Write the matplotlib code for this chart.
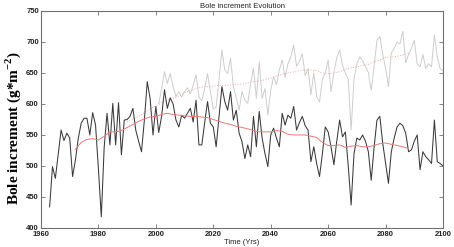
import matplotlib
matplotlib.use("Agg")
import matplotlib.pyplot as plt
import numpy as np

plt.rcParams['mathtext.fontset'] = 'custom'
plt.rcParams['mathtext.rm'] = 'Liberation Serif'
plt.rcParams['mathtext.bf'] = 'Liberation Serif:bold'

# ---------------------------------------------------------------------------
#   DATA
# ---------------------------------------------------------------------------
black_years = np.arange(1963, 2101)
black_vals = [434, 499, 480, 519, 558, 541, 553, 545, 483, 510,
              545, 569, 577, 577, 550, 586, 566, 495, 418, 530,
              585, 534, 601, 534, 602, 518, 574, 575, 580, 593,
              558, 540, 523, 574, 636, 609, 550, 596, 554, 580,
              623, 593, 610, 600, 574, 563, 582, 577, 585, 593,
              571, 606, 534, 534, 570, 604, 569, 563, 531, 580,
              628, 604, 590, 620, 574, 590, 553, 539, 512, 534,
              515, 580, 531, 588, 545, 520, 499, 550, 561, 545,
              531, 585, 566, 582, 577, 596, 558, 570, 580, 565,
              558, 507, 531, 504, 483, 520, 563, 555, 531, 502,
              540, 574, 547, 555, 500, 437, 520, 545, 542, 550,
              540, 523, 477, 530, 574, 580, 537, 505, 472, 523,
              545, 563, 569, 565, 553, 523, 526, 540, 550, 494,
              523, 515, 510, 504, 574, 507, 504, 500]

gray_years = np.arange(2001, 2101)
gray_vals = [600, 625, 652, 633, 649, 628, 612, 620, 611, 620,
             626, 616, 630, 647, 611, 605, 625, 649, 620, 592,
             595, 640, 687, 655, 649, 674, 628, 610, 590, 620,
             606, 601, 633, 658, 609, 668, 609, 625, 582, 622,
             644, 631, 655, 671, 643, 665, 676, 695, 661, 669,
             681, 646, 657, 615, 650, 612, 603, 640, 650, 671,
             620, 650, 675, 687, 662, 650, 640, 558, 640, 665,
             676, 670, 660, 651, 622, 660, 703, 709, 680, 658,
             628, 682, 690, 700, 697, 717, 666, 680, 690, 703,
             665, 660, 680, 657, 665, 660, 711, 677, 657, 654]

red_years = np.arange(1972, 2089, 2)
red_vals = [527, 538, 543, 544, 542, 548, 555, 555, 557, 562,
            567, 572, 576, 579, 580, 583, 585, 583, 582, 581,
            580, 580, 579, 578, 575, 572, 569, 567, 564, 562,
            560, 557, 555, 555, 555, 557, 556, 551, 550, 550,
            550, 548, 546, 538, 533, 533, 534, 530, 532, 533,
            531, 531, 533, 536, 537, 535, 533, 531, 528]

pink_years = np.arange(1990, 2089, 2)
pink_vals = [572, 576, 580, 586, 592, 597, 602, 606, 609, 613,
             618, 622, 625, 627, 628, 629, 630, 630, 631, 631,
             632, 634, 636, 637, 639, 642, 645, 648, 650, 652,
             654, 655, 655, 654, 650, 649, 650, 652, 656, 658,
             660, 662, 664, 668, 671, 675, 676, 677, 679, 682]

xticks = [1960, 1980, 2000, 2020, 2040, 2060, 2080, 2100]
yticks = [400, 450, 500, 550, 600, 650, 700, 750]

# ---------------------------------------------------------------------------
#   PLOT
# ---------------------------------------------------------------------------
fig = plt.figure(figsize=(4.54, 2.47), dpi=100)
ax = fig.add_axes([0.0903, 0.077, 0.8855, 0.8785])

ax.plot(gray_years, gray_vals, color='#cdcdcd', lw=0.7)
ax.plot(pink_years, pink_vals, color='#f2a8a8', lw=0.7, linestyle=':')
ax.plot(black_years, black_vals, color='#3a3a3a', lw=0.75)
ax.plot(red_years, red_vals, color='#f07878', lw=0.7)

ax.set_xlim(1960, 2100)
ax.set_ylim(400, 750)
ax.set_xticks(xticks)
ax.set_yticks(yticks)

for s in ax.spines.values():
    s.set_color('#707070')
    s.set_linewidth(0.8)

ax.tick_params(direction='in', length=3, width=0.6, color='#707070',
               top=True, right=True, labelsize=5.5, labelcolor='#222222')
ax.tick_params(axis='x', pad=2.5)
ax.tick_params(axis='y', pad=1.5)
for lab in ax.get_xticklabels() + ax.get_yticklabels():
    lab.set_fontweight('bold')
    lab.set_family('Liberation Sans')

ax.set_title('Bole increment Evolution', fontsize=5.5,
             family='Liberation Sans', pad=2, color='#222222')
ax.set_xlabel('Time (Yrs)', fontsize=5.5, family='Liberation Sans',
              labelpad=0.5, color='#222222')
ax.set_ylabel(r'Bole increment (g*m$^{\mathbf{-2}}$)', fontsize=11,
              family='Liberation Serif', fontweight='bold')
ax.yaxis.set_label_coords(-0.045, 0.46)

fig.savefig('out.png', dpi=100)
